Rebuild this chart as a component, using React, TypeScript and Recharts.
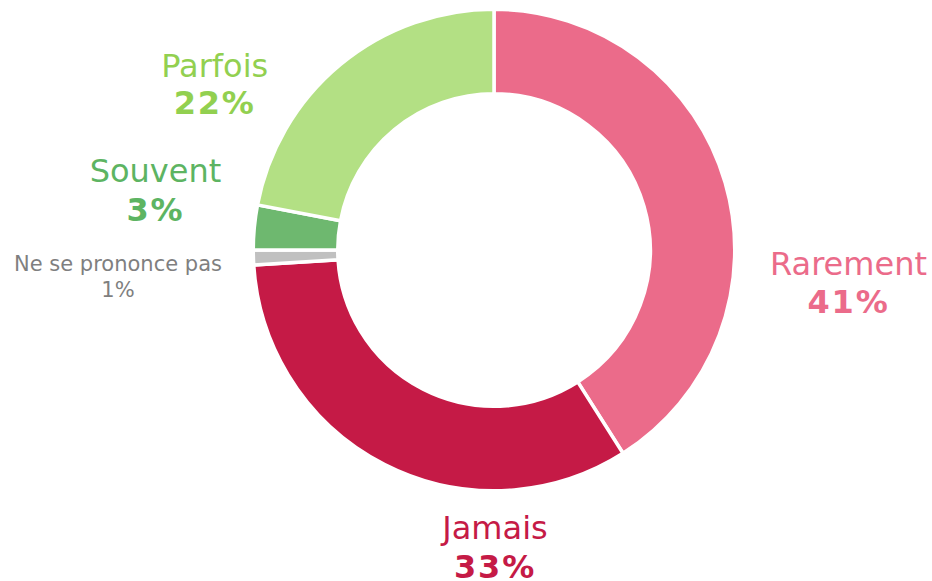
import React from "react";
import { PieChart, Pie, Cell } from "recharts";

const categories = ["Rarement", "Jamais", "Ne se prononce pas", "Souvent", "Parfois"];
const values = [41, 33, 1, 3, 22];
const percentLabels = ["41%", "33%", "1%", "3%", "22%"];

const sliceColors = ["#EB6B8A", "#C51A46", "#C0C0C0", "#6EB86F", "#B3E084"];
const textColors = ["#EB6B8A", "#C51A46", "#7F7F7F", "#5DB462", "#92D050"];

// label layout, relative to pie centre: [dx, nameDy, pctDy, nameSize, pctSize, pctBold]
const labelLayout: Record<string, [number, number, number, number, number, boolean]> = {
  Rarement: [354.5, 25, 63.3, 32, 32, true],
  Jamais: [1, 289, 328, 32, 32, true],
  "Ne se prononce pas": [-376, 20.7, 46.7, 21, 21, false],
  Souvent: [-338.5, -68.3, -29, 32, 32, true],
  Parfois: [-279.3, -173.3, -136, 32, 32, true],
};

const data = categories.map((name, i) => ({ name, value: values[i], pct: percentLabels[i] }));

const FONT = "'DejaVu Sans', Verdana, sans-serif";

const renderLabel = (props: any) => {
  const { cx, cy, index } = props;
  const name = categories[index];
  const [dx, nDy, pDy, nSize, pSize, bold] = labelLayout[name];
  const color = textColors[index];
  return (
    <g key={`lbl-${index}`}>
      <text x={cx + dx} y={cy + nDy} textAnchor="middle" fill={color} fontSize={nSize} fontFamily={FONT}>
        {name}
      </text>
      <text
        x={cx + dx}
        y={cy + pDy}
        textAnchor="middle"
        fill={color}
        fontSize={pSize}
        fontFamily={FONT}
        fontWeight={bold ? "bold" : "normal"}
        letterSpacing={bold ? 1.8 : 0}
      >
        {percentLabels[index]}
      </text>
    </g>
  );
};

export default function App() {
  return (
    <div style={{ position: "absolute", left: 0, top: 0, width: 932, height: 581, background: "#fff" }}>
      <PieChart width={932} height={581} margin={{ top: 0, right: 0, bottom: 0, left: 0 }}>
        <Pie
          data={data}
          dataKey="value"
          nameKey="name"
          cx={494}
          cy={250}
          innerRadius={156.25}
          outerRadius={240.75}
          startAngle={90}
          endAngle={-270}
          stroke="#ffffff"
          strokeWidth={3.5}
          label={renderLabel}
          labelLine={false}
          isAnimationActive={false}
        >
          {data.map((d, i) => (
            <Cell key={d.name} fill={sliceColors[i]} />
          ))}
        </Pie>
      </PieChart>
    </div>
  );
}
